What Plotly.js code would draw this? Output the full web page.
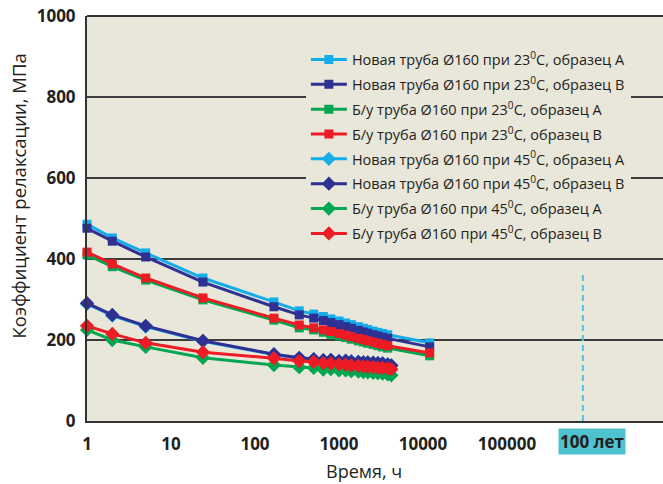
<!DOCTYPE html>
<html>
<head>
<meta charset="utf-8">
<script src="https://cdn.plot.ly/plotly-3.0.1.min.js"></script>
<style>html,body{margin:0;padding:0;background:#fff;}#chart{width:663px;height:484px;}</style>
</head>
<body>
<div id="chart"></div>
<script>
// Time points, h
const t23 = [1, 2, 5, 24, 168, 336, 500, 650, 800, 1000, 1200, 1400, 1700, 1950, 2200, 2550, 2900, 3300, 3800, 12000];
const t45 = [1, 2, 5, 24, 168, 336, 500, 650, 800, 1000, 1200, 1400, 1700, 1950, 2200, 2550, 2900, 3300, 3800, 4200];

// Relaxation modulus, MPa
const new23A  = [486, 452, 415, 353, 294, 272, 264, 258, 252, 247, 242, 238, 233, 229, 226, 222, 219, 216, 213, 193];
const new23B  = [476, 444, 405, 343, 282, 262, 254, 248, 243, 238, 233, 229, 224, 220, 217, 213, 210, 207, 204, 183];
const used23A = [410, 381, 348, 299, 249, 230, 225, 219, 214, 210, 206, 202, 198, 195, 192, 189, 186, 183, 180, 161];
const used23B = [417, 388, 353, 304, 254, 237, 230, 225, 221, 216, 212, 208, 204, 201, 198, 195, 192, 189, 186, 168];
const new45A  = [289, 260, 233, 197, 164, 155, 152, 150, 150, 148, 148, 147, 146, 145, 144, 144, 143, 142, 140, 137];
const new45B  = [291, 262, 235, 198, 165, 156, 153, 150, 151, 148, 149, 147, 146, 145, 145, 144, 143, 142, 140, 137];
const used45A = [225, 200, 183, 156, 138, 133, 131, 127, 128, 125, 125, 123, 122, 121, 120, 119, 118, 117, 115, 113];
const used45B = [235, 215, 193, 170, 155, 148, 146, 143, 142, 140, 139, 137, 136, 135, 134, 133, 132, 131, 130, 128];

const names = [
  'Новая труба Ø160 при 23<sup>0</sup>C, образец А',
  'Новая труба Ø160 при 23<sup>0</sup>C, образец В',
  'Б/у труба Ø160 при 23<sup>0</sup>C, образец А',
  'Б/у труба Ø160 при 23<sup>0</sup>C, образец В',
  'Новая труба Ø160 при 45<sup>0</sup>C, образец А',
  'Новая труба Ø160 при 45<sup>0</sup>C, образец В',
  'Б/у труба Ø160 при 45<sup>0</sup>C, образец А',
  'Б/у труба Ø160 при 45<sup>0</sup>C, образец В'
];
const xTickVals = [1, 10, 100, 1000, 10000, 100000];
const xTickText = ['1', '10', '100', '1000', '10000', '100000'];
const yTickVals = [0, 200, 400, 600, 800, 1000];
const centuryX = [800000, 800000];
const centuryY = [0, 370];

const cLight = '#14ADEA', cDark = '#2E3192', cGreen = '#00A651', cRed = '#ED1C24';
const series = [
  [t23, new23A, cLight, 'square'],
  [t23, new23B, cDark, 'square'],
  [t23, used23A, cGreen, 'square'],
  [t23, used23B, cRed, 'square'],
  [t45, new45A, cLight, 'diamond'],
  [t45, new45B, cDark, 'diamond'],
  [t45, used45A, cGreen, 'diamond'],
  [t45, used45B, cRed, 'diamond']
];
const traces = series.map((s, i) => ({
  type: 'scatter', mode: 'lines+markers', x: s[0], y: s[1], name: names[i],
  legendgroup: 'g' + i, cliponaxis: false,
  line: {color: s[2], width: 3},
  marker: {color: s[2], symbol: s[3], size: s[3] === 'square' ? 9 : 11}
}));
traces.push({
  type: 'scatter', mode: 'lines', x: centuryX, y: centuryY, showlegend: false, hoverinfo: 'skip',
  line: {color: '#4FC3EA', width: 2, dash: '6px,4px'}
});

const tickFont = {family: 'Open Sans', size: 17, color: '#231F20', weight: 'bold'};
const layout = {
  width: 663, height: 484,
  margin: {l: 87, r: 0, t: 16, b: 63},
  paper_bgcolor: '#ffffff', plot_bgcolor: '#E9E6DA',
  showlegend: true,
  xaxis: {
    type: 'log', range: [0, 6.857], tickvals: xTickVals, ticktext: xTickText,
    showgrid: false, zeroline: false, showline: true, linecolor: '#333333', linewidth: 2,
    ticks: 'outside', ticklen: 7, tickcolor: 'rgba(0,0,0,0)', tickfont: tickFont
  },
  yaxis: {
    range: [0, 1000], tickvals: yTickVals,
    showgrid: true, gridcolor: '#3C3C3C', gridwidth: 1.2, zeroline: false,
    showline: true, linecolor: '#333333', linewidth: 2,
    ticks: 'outside', ticklen: 6, tickcolor: 'rgba(0,0,0,0)', tickfont: tickFont
  },
  legend: {
    x: 0.38, xanchor: 'left', y: 0.932, yanchor: 'top',
    bgcolor: '#E9E6DA', borderwidth: 0, tracegroupgap: 3, itemwidth: 36,
    font: {family: 'Open Sans', size: 14.5, color: '#231F20'}
  },
  shapes: [{type: 'line', xref: 'paper', yref: 'paper', x0: 0, x1: 1, y0: 1, y1: 1, line: {color: '#333333', width: 2}}],
  annotations: [
    {text: 'Коэффициент релаксации, МПа', xref: 'paper', yref: 'paper', x: -0.1198, y: 0.557,
     xanchor: 'center', yanchor: 'middle', textangle: -90, showarrow: false,
     font: {family: 'Open Sans', size: 18.5, color: '#231F20'}},
    {text: 'Время, ч', xref: 'paper', yref: 'paper', x: 0.481, y: -0.124,
     xanchor: 'center', yanchor: 'middle', showarrow: false,
     font: {family: 'Open Sans', size: 18, color: '#231F20'}},
    {text: '100 лет', xref: 'x', yref: 'paper', x: 6.01, y: -0.05,
     xanchor: 'center', yanchor: 'middle', showarrow: false, bgcolor: '#4EC3CF', borderpad: 1,
     font: {family: 'Open Sans', size: 17, color: '#231F20', weight: 'bold'}}
  ]
};
Plotly.newPlot('chart', traces, layout, {displayModeBar: false, staticPlot: true});
</script>
</body>
</html>
